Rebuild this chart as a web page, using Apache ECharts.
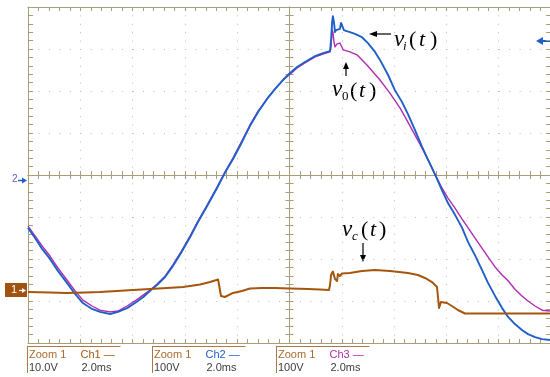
<!DOCTYPE html>
<html><head><meta charset="utf-8">
<script src="https://cdn.jsdelivr.net/npm/echarts@6/dist/echarts.min.js"></script>
<style>html,body{margin:0;padding:0;background:#fff}#c{width:550px;height:377px}</style>
</head><body><div id="c"></div>
<script>
// ---- data: [time in ms (0 = screen centre), volts] ----
const ch2Vi = [[-10.00,-114],[-9.73,-138],[-9.46,-164],[-9.16,-188],[-8.85,-217],[-8.51,-245],[-8.20,-271],[-7.90,-293],[-7.55,-307],[-7.25,-314],[-6.86,-319],[-6.56,-314],[-6.21,-305],[-5.91,-293],[-5.60,-279],[-5.33,-264],[-5.07,-250],[-4.76,-231],[-4.46,-205],[-4.15,-174],[-3.80,-136],[-3.50,-100],[-3.15,-62],[-2.77,-19],[-2.47,17],[-2.16,50],[-1.82,90],[-1.51,129],[-1.20,162],[-0.86,193],[-0.55,217],[-0.25,238],[0.02,255],[0.29,269],[0.59,281],[0.98,295],[1.28,302],[1.55,307],[1.59,333],[1.63,376],[1.66,390],[1.70,376],[1.74,352],[1.78,357],[1.82,355],[1.93,360],[1.97,374],[2.01,370],[2.08,357],[2.16,355],[2.31,352],[2.50,348],[2.77,340],[3.00,326],[3.27,305],[3.46,286],[3.77,250],[4.03,214],[4.30,186],[4.53,157],[4.80,119],[5.07,79],[5.30,48],[5.56,14],[5.83,-24],[6.06,-55],[6.33,-83],[6.60,-114],[6.83,-148],[7.09,-179],[7.36,-214],[7.59,-245],[7.86,-276],[8.13,-305],[8.36,-326],[8.62,-343],[8.89,-357],[9.12,-367],[9.39,-374],[9.66,-379],[9.96,-381]];
const ch3Vo = [[-10.00,-110],[-9.73,-133],[-9.46,-157],[-9.16,-181],[-8.85,-210],[-8.51,-238],[-8.20,-264],[-7.90,-286],[-7.55,-300],[-7.25,-310],[-6.86,-314],[-6.56,-312],[-6.21,-300],[-5.91,-288],[-5.60,-274],[-5.33,-262],[-5.07,-248],[-4.76,-229],[-4.46,-202],[-4.15,-171],[-3.80,-133],[-3.50,-98],[-3.15,-60],[-2.77,-17],[-2.47,19],[-2.16,52],[-1.82,93],[-1.51,131],[-1.20,164],[-0.86,193],[-0.55,217],[-0.25,238],[0.02,252],[0.29,267],[0.59,279],[0.98,293],[1.28,300],[1.55,305],[1.59,321],[1.63,357],[1.66,352],[1.70,329],[1.74,317],[1.82,324],[1.93,326],[2.05,310],[2.31,305],[2.58,298],[2.96,274],[3.46,238],[3.84,207],[4.23,171],[4.53,138],[4.80,107],[5.07,76],[5.30,48],[5.56,14],[5.83,-19],[6.06,-43],[6.33,-67],[6.60,-93],[6.83,-114],[7.09,-138],[7.36,-162],[7.59,-183],[7.86,-207],[8.13,-226],[8.36,-240],[8.62,-260],[8.89,-276],[9.12,-288],[9.39,-300],[9.66,-310],[9.96,-312]];
const ch1Vc = [[-10.00,-0.48],[-9.16,-0.6],[-8.51,-0.71],[-7.82,-0.6],[-7.25,-0.48],[-6.60,-0.24],[-5.99,0],[-5.33,0.24],[-4.68,0.48],[-4.07,0.71],[-3.42,1.31],[-3.04,1.9],[-2.73,2.5],[-2.66,2.62],[-2.62,-1.43],[-2.47,-1.67],[-2.16,-0.71],[-1.82,-0.24],[-1.51,0.36],[-1.05,0.48],[-0.55,0.48],[0.02,0.36],[0.71,0.24],[1.17,0.12],[1.51,0],[1.55,1.19],[1.59,3.57],[1.66,4.4],[1.74,2.62],[1.82,2.14],[1.85,3.81],[1.93,3.33],[2.01,3.93],[2.31,4.05],[2.77,4.52],[3.27,4.76],[3.84,4.52],[4.53,4.05],[4.91,3.57],[5.18,2.86],[5.45,1.9],[5.64,0.71],[5.68,0.48],[5.72,-4.29],[5.79,-2.86],[6.02,-3.1],[6.21,-3.81],[6.44,-4.76],[6.71,-5.6],[7.29,-5.6],[9.96,-5.6]];
const channelNames = ['Ch1', 'Ch2', 'Ch3'];
const channelScales = ['10.0V', '100V', '100V'];
const channelTimebase = ['2.0ms', '2.0ms', '2.0ms'];

// ---- styles ----
const C_FRAME = '#a89e7a', C_DOT = '#c4bb98';
const C_CH1 = '#a5560c', C_CH2 = '#1f5fc8', C_CH3 = '#b02cb0';
const tickStyle = {color: C_FRAME, width: 1};

function xAx(position, inside, center, split) {
  return {
    type: 'value', min: -10, max: 10, interval: 2, position: position,
    axisLine: {show: true, onZero: center, onZeroAxisIndex: 0, lineStyle: {color: C_FRAME, width: 1}},
    axisTick: {show: true, inside: inside, length: 4, lineStyle: tickStyle},
    minorTick: {show: true, splitNumber: 5, length: 4, lineStyle: tickStyle},
    axisLabel: {show: false},
    splitLine: split ? {show: true, lineStyle: {color: C_DOT, width: 1, type: [1, 7.4]}} : {show: false},
    minorSplitLine: {show: false}
  };
}
function yAx(position, inside, center, split) {
  return {
    type: 'value', min: -4, max: 4, interval: 1, position: position,
    axisLine: {show: true, onZero: center, onZeroAxisIndex: 0, lineStyle: {color: C_FRAME, width: 1}},
    axisTick: {show: true, inside: inside, length: center ? 4 : 5, lineStyle: tickStyle},
    minorTick: {show: true, splitNumber: 5, length: center ? 4 : 5, lineStyle: tickStyle},
    axisLabel: {show: false},
    splitLine: split ? {show: true, lineStyle: {color: C_DOT, width: 1, type: [1, 9.46]}} : {show: false},
    minorSplitLine: {show: false}
  };
}

const graphics = [];
function txt(x, y, text, font, fill, va) {
  graphics.push({type: 'text', x: x, y: y, silent: true,
    style: {text: text, font: font, fill: fill, align: 'left', verticalAlign: va || 'middle'}});
}
function ln(x1, y1, x2, y2, stroke, w) {
  graphics.push({type: 'line', silent: true, shape: {x1: x1, y1: y1, x2: x2, y2: y2},
    style: {stroke: stroke, lineWidth: w || 1}});
}
function poly(points, fill) {
  graphics.push({type: 'polygon', silent: true, shape: {points: points}, style: {fill: fill}});
}

// bottom channel info boxes
const boxLeft = [27.5, 152.5, 276.5];
const chColors = [C_CH1, C_CH2, C_CH3];
for (let i = 0; i < 3; i++) {
  const x0 = boxLeft[i];
  ln(x0, 346.5, x0 + 93, 346.5, '#a87846', 1);
  ln(x0, 346, x0, 373, '#a87846', 1);
  txt(x0 + 1.5, 355, 'Zoom 1', '11px "Liberation Sans"', '#ac6a30');
  txt(x0 + 53, 355, channelNames[i] + ' \u2014', '11px "Liberation Sans"', chColors[i]);
  txt(x0 + 1.5, 367.5, channelScales[i], '11px "Liberation Sans"', '#3c3c3c');
  txt(x0 + 54, 367.5, channelTimebase[i], '11px "Liberation Sans"', '#3c3c3c');
}

// annotations
const SER = '"Liberation Serif", "DejaVu Serif", serif';
// v_i(t)
txt(394, 40, 'v', 'italic 23px ' + SER, '#000');
txt(403, 47, 'i', 'italic 13px ' + SER, '#000');
txt(409, 40, '(', '22px ' + SER, '#000');
txt(419, 40, 't', 'italic 22px ' + SER, '#000');
txt(430, 40, ')', '22px ' + SER, '#000');
ln(391, 34, 374, 34, '#000', 1.2);
poly([[369, 34], [377, 31], [377, 37]], '#000');
// v_0(t)
txt(332, 90, 'v', 'italic 23px ' + SER, '#000');
txt(342, 97, '0', '13px ' + SER, '#000');
txt(350, 91, '(', '22px ' + SER, '#000');
txt(359, 91, 't', 'italic 22px ' + SER, '#000');
txt(369, 91, ')', '22px ' + SER, '#000');
ln(346, 76, 346, 67, '#000', 1.2);
poly([[346, 62], [343, 69], [349, 69]], '#000');
// v_c(t)
txt(342, 230, 'v', 'italic 23px ' + SER, '#000');
txt(352, 237, 'c', 'italic 13px ' + SER, '#000');
txt(361, 230, '(', '22px ' + SER, '#000');
txt(370, 230, 't', 'italic 22px ' + SER, '#000');
txt(379, 230, ')', '22px ' + SER, '#000');
ln(363, 243, 363, 256, '#000', 1.2);
poly([[363, 262], [360, 255], [366, 255]], '#000');

// channel ground markers and trigger marker
txt(12, 179, '2', '10px "Liberation Sans"', '#6a55d0');
ln(18, 180.5, 23, 180.5, C_CH2, 1.5);
poly([[27, 180.5], [22, 177.5], [22, 183.5]], C_CH2);
graphics.push({type: 'rect', silent: true, shape: {x: 5, y: 283, width: 22, height: 14}, style: {fill: '#a0520e'}});
txt(11, 290, '1', '11px "Liberation Sans"', '#ffffff');
ln(19, 290.5, 23, 290.5, '#ffffff', 1.2);
poly([[26, 290.5], [22, 288], [22, 293]], '#ffffff');
ln(542, 41, 550, 41, C_CH2, 2);
poly([[536, 41], [543, 37], [543, 45]], C_CH2);

const chart = echarts.init(document.getElementById('c'), null, {renderer: 'canvas'});
chart.setOption({
  animation: false,
  backgroundColor: '#ffffff',
  grid: {left: 28, top: 7, width: 523, height: 336, containLabel: false, outerBoundsMode: 'none'},
  xAxis: [
    xAx('bottom', true, false, true),
    xAx('top', true, false, false),
    xAx('bottom', true, true, false),
    xAx('bottom', false, true, false)
  ],
  yAxis: [
    yAx('left', true, false, true),
    yAx('right', true, false, false),
    yAx('left', true, true, false),
    yAx('left', false, true, false),
    {type: 'value', min: -388.1, max: 411.9, show: false, splitLine: {show: false}},
    {type: 'value', min: -12.62, max: 67.38, show: false, splitLine: {show: false}}
  ],
  series: [
    {type: 'line', name: 'Ch3', data: ch3Vo, xAxisIndex: 0, yAxisIndex: 4, symbol: 'none', silent: true, z: 3,
      lineStyle: {color: C_CH3, width: 1.4, join: 'round'}},
    {type: 'line', name: 'Ch2', data: ch2Vi, xAxisIndex: 0, yAxisIndex: 4, symbol: 'none', silent: true, z: 4,
      lineStyle: {color: C_CH2, width: 1.9, join: 'round'}},
    {type: 'line', name: 'Ch1', data: ch1Vc, xAxisIndex: 0, yAxisIndex: 5, symbol: 'none', silent: true, z: 5,
      lineStyle: {color: C_CH1, width: 2, join: 'round'}}
  ],
  graphic: graphics
});
</script>
</body></html>
